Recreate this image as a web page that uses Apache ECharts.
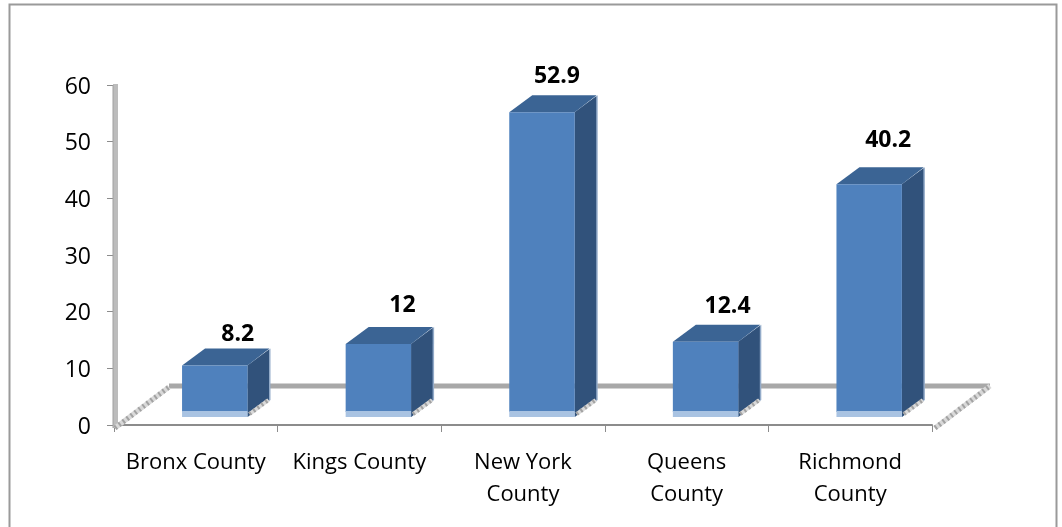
<!DOCTYPE html>
<html><head><meta charset="utf-8">
<style>html,body{margin:0;padding:0;background:#fff}#c{width:1062px;height:527px}</style>
<script src="https://cdn.jsdelivr.net/npm/echarts@6/dist/echarts.min.js"></script>
</head><body><div id="c"></div>
<script>
const categories = ["Bronx County", "Kings County", "New York\nCounty", "Queens\nCounty", "Richmond\nCounty"];
const values = [8.2, 12, 52.9, 12.4, 40.2];
const yTicks = { min: 0, max: 60, interval: 10 };
// layout only: the free-hand nudge of each value label from its bar
const labelNudgeX = [23, 24, 15, 22, 19];
const labelNudgeY = [-14, -22, -19, -18, -27];

const FONT = '"Open Sans", sans-serif';
const DX = 23, DY = -17, LIFT = -13, BAND = 6;
const C = { front:'#4f81bd', top:'#3b6494', side:'#31527b', band:'#a9c3e2', edge:'#93abc9',
            floor:'#a8a8a8', wall:'#bcbcbc', hatch:'#d9d9d9', hatch2:'#a2a2a2' };

function hatch(x1,y1,x2,y2,w){
  return [
    {type:'line',shape:{x1,y1,x2,y2},style:{stroke:C.hatch,lineWidth:w}},
    {type:'line',shape:{x1,y1,x2,y2},style:{stroke:C.hatch2,lineWidth:w,lineDash:[2,3]}}
  ];
}
function renderFloor(params, api){
  const g = params.coordSys, L = g.x, R = g.x+g.width, B = g.y+g.height;
  return {type:'group',children:[
    {type:'rect',shape:{x:L-1,y:g.y-1,width:5,height:g.height+4},style:{fill:C.wall}},
    {type:'line',shape:{x1:L-1,y1:g.y,x2:L-1,y2:B+3},style:{stroke:'#a0a0a0',lineWidth:1}},
    {type:'line',shape:{x1:L+55,y1:B-39,x2:R+58,y2:B-39},style:{stroke:C.floor,lineWidth:5}},
    ...hatch(L+1,B+3,L+55,B-38,5),
    ...hatch(R+3,B+3,R+58,B-39,5)
  ]};
}
function renderBar(params, api){
  const i = api.value(0), v = api.value(1);
  const base = api.coord([i,0]), topP = api.coord([i,v]);
  const band = api.size([1,0])[0];
  const w = band*0.4, x = base[0]+band*0.116-w/2, r = x+w;
  const yb = base[1]+LIFT, yt = topP[1]+LIFT, ye = yb+5;
  return {type:'group',children:[
    {type:'polygon',shape:{points:[[r,yt],[r+DX,yt+DY],[r+DX,ye+DY],[r,ye]]},style:{fill:C.edge}},
    {type:'polygon',shape:{points:[[r,yt],[r+DX-1.5,yt+DY+1],[r+DX-1.5,ye+DY],[r,ye]]},style:{fill:C.side}},
    ...hatch(r+2,ye-3,r+DX-2,ye+DY,4),
    {type:'polygon',shape:{points:[[x,yt],[x+DX,yt+DY],[r+DX-1,yt+DY],[r,yt]]},style:{fill:C.top}},
    {type:'rect',shape:{x,y:yt,width:w,height:yb-yt},style:{fill:C.front}},
    {type:'rect',shape:{x,y:yb-1,width:w,height:BAND},style:{fill:C.band}},
    {type:'text',x:x+w/2+labelNudgeX[i],y:yt+DY+labelNudgeY[i],
     style:{text:String(v),fill:'#000',font:'bold 23px '+FONT,align:'center',verticalAlign:'middle'}}
  ]};
}
const chart = echarts.init(document.getElementById('c'),null,{renderer:'canvas'});
chart.setOption({
  backgroundColor:'#fff', animation:false,
  graphic:[{type:'rect',z:-1,shape:{x:9.5,y:4.5,width:1047,height:600},style:{fill:'#fff',stroke:'#9a9a9a',lineWidth:2}}],
  grid:{left:114,right:130,top:85,bottom:102,containLabel:false},
  xAxis:[
    {type:'category',data:categories,position:'bottom',offset:4,
     axisLine:{show:true,lineStyle:{color:'#8c8c8c',width:2}},axisTick:{show:false},
     axisLabel:{color:'#000',fontFamily:FONT,fontSize:22,lineHeight:32,margin:18,interval:0,hideOverlap:false}},
    {type:'category',data:categories,position:'bottom',offset:0,
     axisLine:{show:false},axisTick:{show:true,length:7,lineStyle:{color:'#8c8c8c',width:1}},axisLabel:{show:false}}
  ],
  yAxis:{type:'value',min:yTicks.min,max:yTicks.max,interval:yTicks.interval,
     axisLine:{show:false},axisTick:{show:true,length:7,lineStyle:{color:'#8c8c8c',width:1}},
     splitLine:{show:false},
     axisLabel:{margin:23,formatter:'{n|{value}}',
       rich:{n:{color:'#000',fontFamily:FONT,fontSize:23,padding:[4,0,0,0]}}}},
  series:[
    {type:'custom',name:'floor',renderItem:renderFloor,data:[[0,0]],z:1,silent:true,clip:false},
    {type:'custom',name:'bars',renderItem:renderBar,z:2,clip:false,
     encode:{x:0,y:1},data:values.map((v,i)=>[i,v])}
  ]
});
</script></body></html>
